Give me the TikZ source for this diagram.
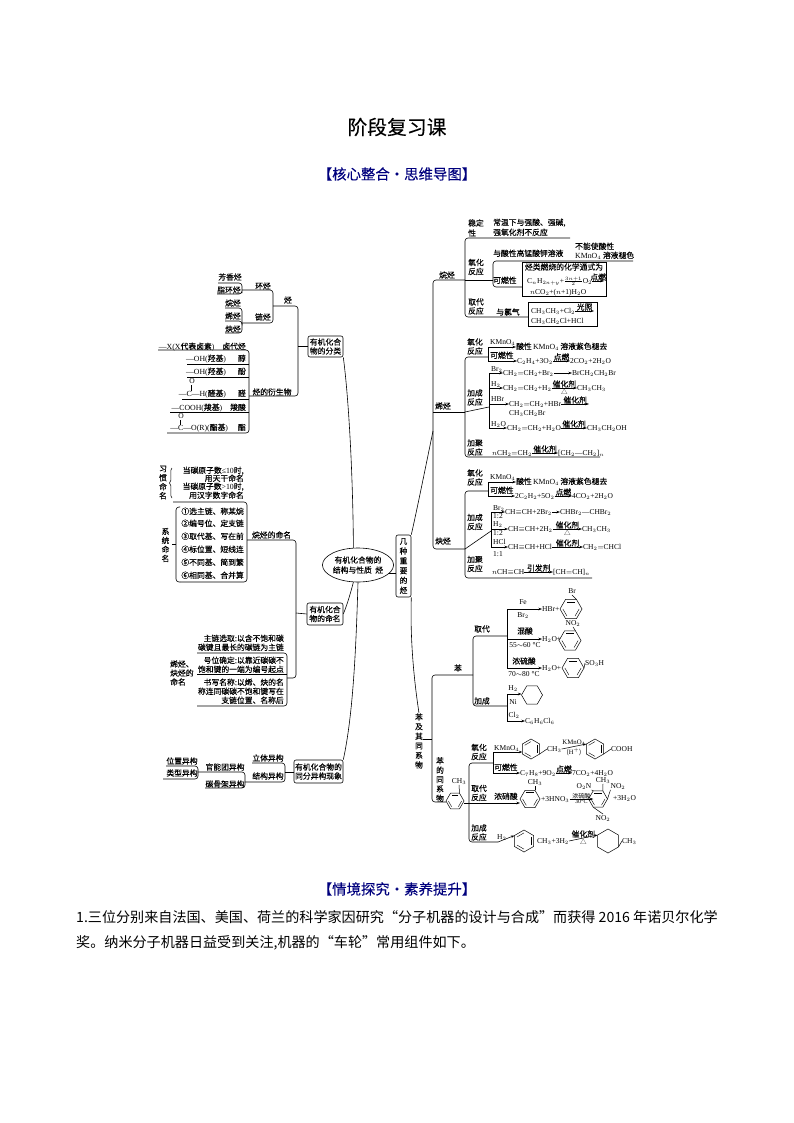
\documentclass[tikz,border=0pt]{standalone}
\usepackage{fontspec}
\setmainfont{Noto Sans CJK SC}
\newfontfamily\mapcjk{Noto Sans CJK SC}[FakeBold=0.15]
\newfontfamily\lat{Liberation Serif}
\usetikzlibrary{arrows.meta,positioning,calc,shapes.geometric,decorations.pathreplacing}
\definecolor{hdblue}{RGB}{0,0,125}
\newcommand{\fm}[1]{{\lat #1}}
\newcommand{\dbl}{$=$}
\newcommand{\tpl}{$\equiv$}
\newcommand{\kek}[1]{%
  \draw[thin] ($(#1.center)!.74!(#1.corner 1)$) -- ($(#1.center)!.74!(#1.corner 2)$);
  \draw[thin] ($(#1.center)!.74!(#1.corner 3)$) -- ($(#1.center)!.74!(#1.corner 4)$);
  \draw[thin] ($(#1.center)!.74!(#1.corner 5)$) -- ($(#1.center)!.74!(#1.corner 6)$);}
\begin{document}
\begin{tikzpicture}[x=1pt, y=-1pt,
    txt/.style={inner sep=0pt, font=\fontsize{7.8}{9}\selectfont\mapcjk},
    tw/.style={txt, anchor=west, text height=6pt, text depth=1.5pt},
    te/.style={txt, anchor=east, text height=6pt, text depth=1.5pt},
    stack/.style={txt, align=center},
    fm/.style={tw, font=\fontsize{7.5}{9}\selectfont\lat},
    cat/.style={txt, inner sep=.6pt},
    bx/.style={draw, rounded corners=2pt, line width=.6pt, align=center, inner sep=0pt,
               font=\fontsize{7.8}{9}\selectfont\mapcjk},
    sq/.style={draw, line width=.6pt, inner sep=0pt},
    lnk/.style={line width=.6pt, rounded corners=3pt},
    arr/.style={-{Stealth[length=3.5pt,width=2.5pt]}, line width=.55pt},
    hexn/.style={draw, regular polygon, regular polygon sides=6, inner sep=0pt,
                 outer sep=0pt, line width=.5pt},
    hexf/.style={hexn, shape border rotate=30}
  ]
  \useasboundingbox (0,0) rectangle (794,1123);
  % Headings
  \node[font=\fontsize{19.8}{22}\selectfont\mapcjk] (title) at (397,127) {阶段复习课};
  \node[font=\fontsize{14.4}{16}\selectfont\mapcjk, text=hdblue] (headA) at (397,174) {【核心整合·思维导图】};
  \node[font=\fontsize{14.4}{16}\selectfont\mapcjk, text=hdblue] (headB) at (397,889) {【情境探究·素养提升】};
  \node[anchor=west, inner sep=0pt, font=\fontsize{14.1}{16}\selectfont] (bodyA) at (76,917)
    {1.三位分别来自法国、美国、荷兰的科学家因研究“分子机器的设计与合成”而获得 2016 年诺贝尔化学};
  \node[anchor=west, inner sep=0pt, font=\fontsize{14.1}{16}\selectfont] (bodyB) at (76,943)
    {奖。纳米分子机器日益受到关注,机器的“车轮”常用组件如下。};

  % Centre and main boxes
  \node[draw, ellipse, line width=.6pt, minimum width=64pt, minimum height=34pt, inner sep=0pt,
        align=center, font=\fontsize{7.8}{10}\selectfont\mapcjk] (hub) at (358,565)
    {有机化合物的\\结构与性质\ \ 烃};
  \node[bx, minimum width=35pt, minimum height=21pt] (bxA) at (325.5,346.5) {有机化合\\物的分类};
  \node[bx, minimum width=36pt, minimum height=22pt] (bxB) at (325,614) {有机化合\\物的命名};
  \node[bx, minimum width=49pt, minimum height=23pt] (bxC) at (318.5,771.5) {有机化合物的\\同分异构现象};
  \node[bx, minimum width=15pt, minimum height=62pt, font=\fontsize{7.8}{9.8}\selectfont\mapcjk] (bxD) at (403.5,566)
    {几\\种\\重\\要\\的\\烃};
  \draw[lnk] (bxA.south east) .. controls (349,400) and (353,480) .. (hub.105);
  \draw[lnk] (hub.255) .. controls (350,595) and (347,605) .. (bxB.east);
  \draw[lnk] (hub.270) .. controls (356,650) and (353,715) .. (bxC.north east);
  \draw[lnk] (hub.345) -- (hub.345 -| bxD.west);

  % Classification
  \node[txt] (arom) at (230,277) {芳香烃};
  \node[txt] (cyc) at (229,290) {脂环烃};
  \node[txt] (alka) at (233,303) {烷烃};
  \node[txt] (alke) at (233,316) {烯烃};
  \node[txt] (alky) at (233,329) {炔烃};
  \node[txt] (ring) at (263,286) {环烃};
  \node[txt] (chain) at (263,317) {链烃};
  \node[txt] (hc) at (288,300) {烃};
  \node[txt] (deriv) at (272,392) {烃的衍生物};
  \coordinate (a1) at (218,283); \coordinate (a2) at (217,294);
  \coordinate (a3) at (225,308); \coordinate (a4) at (225,321); \coordinate (a5) at (225,333);
  \coordinate (j1) at (242,290); \coordinate (j2) at (273,306); \coordinate (j3) at (242,323);
  \coordinate (j4) at (298,346.5); \coordinate (j5) at (249,396);
  \draw[lnk] (a1) -| (j1) |- (a2);
  \draw[lnk] (a3) -| (j3) |- (a5);
  \draw[lnk] (a4) -| (j3);
  \draw[lnk] (j1) -| (j2) |- (j3);
  \draw[lnk] (j2) -| (j4) |- (j5);
  \draw[lnk] (j4) -- (bxA.west);

  % Derivatives
  \node[te] (dhal) at (246,347) {\fm{—X(X}代表卤素\fm{)}\hspace{8pt}卤代烃};
  \node[te] (dalc) at (246,359) {\fm{—OH(}羟基\fm{)}\hspace{12pt}醇};
  \node[te] (dphe) at (246,372) {\fm{—OH(}羟基\fm{)}\hspace{12pt}酚};
  \node[te] (dald) at (246,394) {\fm{—C—H(}醛基\fm{)}\hspace{12pt}醛};
  \node[te] (dacd) at (246,408) {\fm{—COOH(}羧基\fm{)}\hspace{8pt}羧酸};
  \node[te] (dest) at (246,428) {\fm{—C—O(R)(}酯基\fm{)}\hspace{10pt}酯};
  \node[fm, anchor=center] (oxA) at (192,381) {O};
  \node[fm, anchor=center] (oxB) at (181,416) {O};
  \coordinate (cA) at (192,390.5); \coordinate (cB) at (181,424.5);
  \draw[double, double distance=.7pt, line width=.3pt] (oxA.south) -- (cA);
  \draw[double, double distance=.7pt, line width=.3pt] (oxB.south) -- (cB);
  \coordinate (d1) at (158,350); \coordinate (d2) at (187,364); \coordinate (d3) at (187,377);
  \coordinate (d4) at (182,399); \coordinate (d5) at (170,412); \coordinate (d6) at (167,433);
  \draw[lnk] (d1) -| (j5) |- (d6);
  \draw[lnk] (d2) -- (d2 -| j5);
  \draw[lnk] (d3) -- (d3 -| j5);
  \draw[lnk] (d4) -- (d4 -| j5);
  \draw[lnk] (d5) -- (d5 -| j5);

  % Common and systematic names
  \node[stack] (hab) at (163,482.5) {习\\惯\\命\\名};
  \node[te] (habA) at (244,471) {当碳原子数\fm{≤10}时,};
  \node[te] (habB) at (244,479) {用天干命名};
  \node[te] (habC) at (244,487) {当碳原子数\fm{>10}时,};
  \node[te] (habD) at (244,496) {用汉字数字命名};
  \coordinate (bA) at (172,498); \coordinate (bB) at (172,468);
  \draw[decorate, decoration={brace, amplitude=2.5pt}, line width=.5pt] (bA) -- (bB);
  \node[stack] (sys) at (165.5,545) {系\\统\\命\\名};
  \node[te] (sysA) at (244,512) {①选主链、称某烷};
  \node[te] (sysB) at (244,524) {②编号位、定支链};
  \node[te] (sysC) at (244,537) {③取代基、写在前};
  \node[te] (sysD) at (244,550) {④标位置、短线连};
  \node[te] (sysE) at (244,563) {⑤不同基、简到繁};
  \node[te] (sysF) at (244,576) {⑥相同基、合并算};
  \coordinate (e1) at (173,502); \coordinate (e2) at (247,540); \coordinate (e3) at (180,582);
  \coordinate (e4) at (180,507); \coordinate (e5) at (176,544); \coordinate (e6) at (172,544);
  \draw[lnk] (e1) -| (e2) |- (e3);
  \draw[lnk] (e4) -| (e5) |- (e3);
  \draw[line width=.5pt] (e6) -- (e5);
  \node[txt] (alkn) at (271.6,535) {烷烃的命名};
  \coordinate (e7) at (296,613); \coordinate (e8) at (287,678);
  \draw[lnk] (e2) -| (e7) |- (e8);
  \draw[lnk] (e7) -- (bxB.west);

  % Alkene and alkyne names
  \node[te] (nmA) at (284,639) {主链选取:以含不饱和碳};
  \node[te] (nmB) at (284,648) {碳键且最长的碳链为主链};
  \node[te] (nmC) at (284,661) {号位确定:以靠近碳碳不};
  \node[te] (nmD) at (284,670) {饱和键的一端为编号起点};
  \node[te] (nmE) at (284,683) {书写名称:以烯、炔的名};
  \node[te] (nmF) at (284,692) {称连同碳碳不饱和键写在};
  \node[te] (nmG) at (284,701) {支链位置、名称后};
  \node[stack, align=left, anchor=west] (nmH) at (170,673) {烯烃、\\炔烃的\\命名};
  \coordinate (g1) at (197,653); \coordinate (g2) at (197,674); \coordinate (g3) at (197,706);
  \draw[lnk] (g1) -| (e8) |- (g3);
  \draw[lnk] (g2) -- (g2 -| e8);

  % Isomers
  \node[txt] (isoA) at (268,758) {立体异构};
  \node[txt] (isoB) at (268,776) {结构异构};
  \node[txt] (isoC) at (225,767) {官能团异构};
  \node[txt] (isoD) at (225,784) {碳骨架异构};
  \node[txt] (isoE) at (182,761) {位置异构};
  \node[txt] (isoF) at (182,773) {类型异构};
  \coordinate (h1) at (252,763); \coordinate (h2) at (285,772); \coordinate (h3) at (245,782);
  \coordinate (h4) at (198,772); \coordinate (h5) at (245,780); \coordinate (h6) at (205,788);
  \coordinate (h7) at (166,766); \coordinate (h8) at (163,779);
  \draw[lnk] (h1) -| (h2) |- (h3);
  \draw[lnk] (h2) -- (bxC.west |- h2);
  \draw[lnk] (h4) -| (h5) |- (h6);
  \draw[lnk] (h7) -| (h4) |- (h8);

  % Right side spine
  \coordinate (s1) at (465,280); \coordinate (s2) at (433,412); \coordinate (s3) at (465,412);
  \coordinate (s4) at (465,549); \coordinate (s0) at (433,431);
  \draw[lnk] (s1) -| (s2) |- (s4);
  \draw[lnk] (s2) -- (s3);
  \draw[lnk] (bxD.north east) .. controls (418,505) and (428,455) .. (s0);
  \node[txt] (alkaB) at (447,275) {烷烃};
  \node[txt] (alkeB) at (443,406) {烯烃};
  \node[txt] (alkyB) at (443,541) {炔烃};

  % Alkanes
  \node[txt, anchor=west] (stabA) at (468,223) {稳定};
  \node[txt, anchor=west] (stabB) at (468,233) {性};
  \node[tw] (stabC) at (493,223) {常温下与强酸、强碱,};
  \node[tw] (stabD) at (493,233) {强氧化剂不反应};
  \node[stack] (oxiA) at (476,267) {氧化\\反应};
  \node[tw] (oxiB) at (493,254) {与酸性高锰酸钾溶液};
  \node[tw] (oxiC) at (575,247) {不能使酸性};
  \node[tw] (oxiD) at (575,256) {\fm{KMnO$_4$} 溶液褪色};
  \node[tw] (oxiE) at (493,281) {可燃性};
  \node[stack] (subA) at (476,306.5) {取代\\反应};
  \node[txt] (subB) at (508,312) {与氯气};
  \node[sq, minimum width=84pt, minimum height=34pt] (bxE) at (564,279) {};
  \node[txt] (genA) at (564,267) {烃类燃烧的化学通式为};
  \node[fm] (genB) at (527,281) {C$_{\scriptscriptstyle n}$H$_{\scriptscriptstyle 2n{+}y}$+$\frac{3n{+}1}{2}$O$_2$};
  \coordinate (genC) at (604,281);
  \draw[arr] (genB.east) -- (genC) node[midway, above=-.5pt, cat] (genD) {点燃};
  \node[fm] (genE) at (530,292) {$n$CO$_2$+($n$+1)H$_2$O};
  \node[sq, minimum width=69pt, minimum height=24pt] (bxF) at (562.5,314) {};
  \node[fm] (clA) at (531,311) {CH$_3$CH$_3$+Cl$_2$};
  \coordinate (clB) at (594,311);
  \draw[arr] (clA.east) -- (clB) node[midway, above=-.5pt, cat] (clC) {光照};
  \node[fm] (clD) at (531,321) {CH$_3$CH$_2$Cl+HCl};
  \coordinate (t1) at (570,238); \coordinate (t2) at (528,317);
  \coordinate (t3) at (633,261); \coordinate (t4) at (522,287); \coordinate (s5) at (493,280);
  \draw[lnk] (t1) -| (s1) |- (t2);
  \draw[lnk] (s1) -- (s5);
  \draw[lnk] (t3) -| (s5) |- (t4);

  % Alkenes
  \node[stack] (eneA) at (475,346.5) {氧化\\反应};
  \node[fm] (eneB) at (490,342) {KMnO$_4$};
  \node[tw] (eneC) at (516,347) {酸性\,\fm{KMnO$_4$}\,溶液紫色褪去};
  \node[tw] (eneD) at (490,356) {可燃性};
  \node[fm] (eneE) at (517,361) {C$_2$H$_4$+3O$_2$};
  \node[fm] (eneF) at (570,361) {2CO$_2$+2H$_2$O};
  \node[stack] (eneG) at (475,397.5) {加成\\反应};
  \node[fm] (eneH) at (491,369) {Br$_2$};
  \node[fm] (eneI) at (503,373) {CH$_2$\dbl CH$_2$+Br$_2$};
  \node[fm] (eneJ) at (572,373) {BrCH$_2$CH$_2$Br};
  \node[fm] (eneK) at (491,384) {H$_2$};
  \node[fm] (eneL) at (503,388) {CH$_2$\dbl CH$_2$+H$_2$};
  \node[fm] (eneM) at (577,388) {CH$_3$CH$_3$};
  \node[fm] (eneN) at (491,399) {HBr};
  \node[fm] (eneO) at (509,404) {CH$_2$\dbl CH$_2$+HBr};
  \coordinate (eneP) at (589,404);
  \node[fm] (eneQ) at (509,413) {CH$_3$CH$_2$Br};
  \node[fm] (eneR) at (491,424) {H$_2$O};
  \node[fm] (eneS) at (507,428) {CH$_2$\dbl CH$_2$+H$_2$O};
  \node[fm] (eneT) at (587,428) {CH$_3$CH$_2$OH};
  \node[stack] (eneU) at (475,447.5) {加聚\\反应};
  \node[fm] (eneV) at (492,453) {$n$CH$_2$\dbl CH$_2$};
  \node[fm] (eneW) at (558,453) {[CH$_2$—CH$_2$]$_n$};
  \coordinate (u1) at (488,357); \coordinate (u2) at (600,457); \coordinate (u4) at (488,347);
  \coordinate (u5) at (488,361); \coordinate (u6) at (489,407); \coordinate (u7) at (489,373);
  \coordinate (u8) at (489,388); \coordinate (u9) at (489,404); \coordinate (u10) at (489,428);
  \draw[lnk] (u1) -| (s3) |- (u2);
  \draw[line width=.6pt] (u4) -- (u5);
  \draw[lnk] (s3) -- (u6);
  \draw[line width=.6pt] (u7) -- (u10);
  \draw[arr] (u4) -- (eneC.west);
  \draw[arr] (u5) -- (eneE.west);
  \draw[arr] (u7) -- (eneI.west);
  \draw[arr] (u8) -- (eneL.west);
  \draw[arr] (u9) -- (eneO.west);
  \draw[arr] (u10) -- (eneS.west);
  \draw[arr] (eneE.east) -- (eneF.west) node[midway, above=-.5pt, cat] (catA) {点燃};
  \draw[arr] (eneI.east) -- (eneJ.west);
  \draw[arr] (eneL.east) -- (eneM.west) node[midway, above=-.5pt, cat] (catB) {催化剂}
    node[midway, below=0pt, cat, font=\fontsize{6.5}{7}\selectfont] (catC) {△};
  \draw[arr] (eneO.east) -- (eneP) node[midway, above=-.5pt, cat] (catD) {催化剂};
  \draw[arr] (eneS.east) -- (eneT.west) node[midway, above=-.5pt, cat] (catE) {催化剂};
  \draw[arr] (eneV.east) -- (eneW.west) node[midway, above=-.5pt, cat] (catF) {催化剂};

  % Alkynes
  \node[stack] (ynA) at (475,477.5) {氧化\\反应};
  \node[fm] (ynB) at (490,477) {KMnO$_4$};
  \node[tw] (ynC) at (516,482) {酸性\,\fm{KMnO$_4$}\,溶液紫色褪去};
  \node[tw] (ynD) at (490,491) {可燃性};
  \node[fm] (ynE) at (515,496) {2C$_2$H$_2$+5O$_2$};
  \node[fm] (ynF) at (572,496) {4CO$_2$+2H$_2$O};
  \node[stack] (ynG) at (475,522) {加成\\反应};
  \node[fm] (ynH) at (493,508) {Br$_2$};
  \node[fm] (ynI) at (493,516.5) {1:2};
  \node[fm] (ynJ) at (505,512) {CH\tpl CH+2Br$_2$};
  \node[fm] (ynK) at (560,512) {CHBr$_2$—CHBr$_2$};
  \node[fm] (ynL) at (493,524) {H$_2$};
  \node[fm] (ynM) at (493,533) {1:2};
  \node[fm] (ynN) at (508,529) {CH\tpl CH+2H$_2$};
  \node[fm] (ynO) at (582,529) {CH$_3$CH$_3$};
  \node[fm] (ynP) at (493,542) {HCl};
  \node[fm] (ynQ) at (493,554) {1:1};
  \node[fm] (ynR) at (508,547) {CH\tpl CH+HCl};
  \node[fm] (ynS) at (583,547) {CH$_2$\dbl CHCl};
  \node[stack] (ynT) at (475,564) {加聚\\反应};
  \node[fm] (ynU) at (492,572) {$n$CH\tpl CH};
  \node[fm] (ynV) at (553,572) {[CH\dbl CH]$_n$};
  \coordinate (v1) at (488,491); \coordinate (v2) at (592,578); \coordinate (v3) at (488,482);
  \coordinate (v4) at (488,496); \coordinate (v5) at (491,531); \coordinate (v6) at (491,512);
  \coordinate (v7) at (491,529); \coordinate (v8) at (491,547);
  \draw[lnk] (v1) -| (s4) |- (v2);
  \draw[line width=.6pt] (v3) -- (v4);
  \draw[lnk] (s4) -- (v5);
  \draw[line width=.6pt] (v6) -- (v8);
  \draw[arr] (v3) -- (ynC.west);
  \draw[arr] (v4) -- (ynE.west);
  \draw[arr] (v6) -- (ynJ.west);
  \draw[arr] (v7) -- (ynN.west);
  \draw[arr] (v8) -- (ynR.west);
  \draw[arr] (ynE.east) -- (ynF.west) node[midway, above=-.5pt, cat] (catG) {点燃};
  \draw[arr] (ynJ.east) -- (ynK.west);
  \draw[arr] (ynN.east) -- (ynO.west) node[midway, above=-.5pt, cat] (catH) {催化剂}
    node[midway, below=0pt, cat, font=\fontsize{6.5}{7}\selectfont] (catI) {△};
  \draw[arr] (ynR.east) -- (ynS.west) node[midway, above=-.5pt, cat] (catJ) {催化剂};
  \draw[arr] (ynU.east) -- (ynV.west) node[midway, above=-.5pt, cat] (catK) {引发剂};

  % Benzene
  \node[stack, font=\fontsize{7.8}{9.6}\selectfont\mapcjk] (arene) at (419,741) {苯\\及\\其\\同\\系\\物};
  \draw[lnk] (bxD.south east) .. controls (410,640) and (414,680) .. (arene.north);
  \coordinate (w0) at (432,739); \coordinate (w1) at (473,675); \coordinate (w2) at (432,802);
  \coordinate (w3) at (446,802);
  \draw[lnk] (w1) -| (w0) |- (w3);
  \draw[lnk] (arene.east |- w0) -- (w0);
  \node[txt] (bzA) at (458,668) {苯};
  \node[txt] (bzB) at (482,629) {取代};
  \node[txt] (bzC) at (482,701) {加成};
  \coordinate (w4) at (507,636); \coordinate (w5) at (507,706);
  \draw[lnk] (w4) -| (w1) |- (w5);
  \node[fm, anchor=center] (feA) at (523,602) {Fe};
  \node[fm, anchor=center] (feB) at (523,615) {Br$_2$};
  \node[fm] (feC) at (542,609) {HBr+};
  \node[hexn, minimum size=22pt] (rgA) at (571,609) {};
  \kek{rgA}
  \node[fm, anchor=center] (feD) at (572,591) {Br};
  \draw[line width=.5pt] (rgA.corner 1) -- (feD.south);
  \node[txt] (niA) at (525,631) {混酸};
  \node[fm, anchor=center] (niB) at (525,645) {55$\sim$60 °C};
  \node[fm] (niC) at (542,639) {H$_2$O+};
  \node[hexn, minimum size=22pt] (rgB) at (570,640.5) {};
  \kek{rgB}
  \node[fm, anchor=center] (niD) at (573,623) {NO$_2$};
  \draw[line width=.5pt] (rgB.corner 1) -- (niD.south);
  \node[txt] (suA) at (524,661) {浓硫酸};
  \node[fm, anchor=center] (suB) at (524,674) {70$\sim$80 °C};
  \node[fm] (suC) at (542,668) {H$_2$O+};
  \node[hexn, minimum size=22pt] (rgC) at (573,668) {};
  \kek{rgC}
  \node[fm] (suD) at (585,663) {SO$_3$H};
  \draw[line width=.5pt] (rgC.corner 6) -- (suD.west);
  \coordinate (w6) at (507,609); \coordinate (w7) at (507,639); \coordinate (w8) at (507,668);
  \draw[line width=.6pt] (w6) -- (w8);
  \draw[arr] (w6) -- (feC.west);
  \draw[arr] (w7) -- (niC.west);
  \draw[arr] (w8) -- (suC.west);
  \node[fm, anchor=center] (adA) at (513,688) {H$_2$};
  \node[fm, anchor=center] (adB) at (513,702) {Ni};
  \node[fm, anchor=center] (adC) at (514,715) {Cl$_2$};
  \node[hexn, minimum size=21pt] (rgD) at (532,695) {};
  \node[fm] (adD) at (525,721) {C$_6$H$_6$Cl$_6$};
  \coordinate (w9) at (507,694); \coordinate (w10) at (507,721);
  \draw[line width=.6pt] (w9) -- (w10);
  \draw[arr] (w9) -- (rgD.west |- w9);
  \draw[arr] (w10) -- (adD.west);

  % Toluene
  \node[stack, font=\fontsize{7.8}{9.4}\selectfont\mapcjk] (homol) at (440,779.5) {苯\\的\\同\\系\\物};
  \node[hexn, minimum size=18pt] (rgE) at (455,801) {};
  \kek{rgE}
  \node[fm, anchor=center] (toA) at (459,781) {CH$_3$};
  \draw[line width=.5pt] (rgE.corner 1) -- (toA.south);
  \coordinate (x0) at (469,803); \coordinate (x1) at (493,763); \coordinate (x2) at (498,842);
  \draw[lnk] (x1) -| (x0) |- (x2);
  \draw[line width=.6pt] (rgE.east |- x0) -- (x0);
  \node[stack] (toB) at (479,752) {氧化\\反应};
  \node[fm] (toC) at (494,748) {KMnO$_4$};
  \node[tw] (toD) at (494,768) {可燃性};
  \node[stack] (toE) at (479,793) {取代\\反应};
  \node[tw] (toF) at (494,797) {浓硝酸};
  \node[stack] (toG) at (479,832.5) {加成\\反应};
  \node[fm] (toH) at (497,837) {H$_2$};
  \coordinate (x3) at (493,752); \coordinate (x4) at (493,773);
  \draw[line width=.6pt] (x3) -- (x4);
  \node[hexf, minimum size=20pt] (rgF) at (531,749) {};
  \kek{rgF}
  \node[fm] (okA) at (547,749) {CH$_3$};
  \node[hexf, minimum size=20pt] (rgG) at (595,749) {};
  \kek{rgG}
  \node[fm] (okC) at (611,749) {COOH};
  \draw[line width=.5pt] (rgF.corner 5) -- (okA.west);
  \draw[line width=.5pt] (rgG.corner 5) -- (okC.west);
  \draw[arr] (okA.east) -- (rgG.corner 2) node[midway, above=.5pt, cat, font=\fontsize{6.8}{8}\selectfont\lat] (catL) {KMnO$_4$}
    node[midway, below=1pt, cat, font=\fontsize{6.5}{8}\selectfont] (catM) {(\fm{H$^+$})};
  \draw[arr] (x3) -- (rgF.corner 2 |- x3);
  \node[fm] (boA) at (520,773) {C$_7$H$_8$+9O$_2$};
  \node[fm] (boB) at (572,773) {7CO$_2$+4H$_2$O};
  \draw[arr] (x4) -- (boA.west);
  \draw[arr] (boA.east) -- (boB.west) node[midway, above=-.5pt, cat] (catN) {点燃};
  \node[hexn, minimum size=20pt] (rgH) at (530,799) {};
  \kek{rgH}
  \node[fm, anchor=center] (nitA) at (535,782) {CH$_3$};
  \draw[line width=.5pt] (rgH.corner 1) -- (nitA.south);
  \draw[arr] (x0) -- (rgH.west |- x0);
  \node[fm] (nitB) at (541,799) {+3HNO$_3$};
  \node[hexn, minimum size=19pt] (rgI) at (598,799) {};
  \kek{rgI}
  \draw[arr] (nitB.east) -- (rgI.corner 2 |- nitB.east) node[midway, above=-.5pt, cat, font=\fontsize{6}{7}\selectfont] (catO) {浓硫酸}
    node[midway, below=0pt, cat, font=\fontsize{6}{7}\selectfont\lat] (catP) {30°C};
  \node[fm, anchor=center] (nitC) at (603,780) {CH$_3$};
  \node[fm, anchor=center] (nitD) at (584,786) {O$_2$N};
  \node[fm, anchor=center] (nitE) at (618,786) {NO$_2$};
  \node[fm, anchor=center] (nitF) at (603,818) {NO$_2$};
  \node[fm] (nitG) at (613,798) {+3H$_2$O};
  \draw[line width=.5pt] (rgI.corner 1) -- (nitC.south);
  \draw[line width=.5pt] (rgI.corner 2) -- (nitD.south east);
  \draw[line width=.5pt] (rgI.corner 6) -- (nitE.south west);
  \draw[line width=.5pt] (rgI.corner 4) -- (nitF.north);
  \node[hexf, minimum size=22pt] (rgJ) at (524,841) {};
  \kek{rgJ}
  \draw[arr] (x2) -- (rgJ.corner 2);
  \node[fm] (hyA) at (537,841) {CH$_3$+3H$_2$};
  \node[hexf, minimum size=24pt] (rgK) at (608,841) {};
  \draw[arr] (hyA.east) -- (rgK.corner 2) node[midway, above=-.5pt, cat] (catQ) {催化剂}
    node[midway, below=0pt, cat, font=\fontsize{6.5}{7}\selectfont] (catR) {△};
  \node[fm] (hyB) at (622,841) {CH$_3$};
  \draw[line width=.5pt] (rgK.corner 5) -- (hyB.west);
\end{tikzpicture}
\end{document}
